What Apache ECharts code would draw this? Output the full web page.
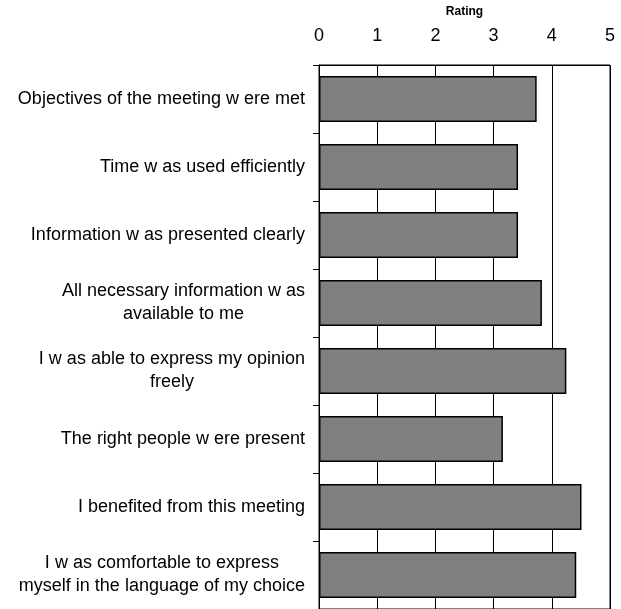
<!DOCTYPE html>
<html>
<head>
<meta charset="utf-8">
<script src="https://cdn.jsdelivr.net/npm/echarts@6/dist/echarts.min.js"></script>
<style>
html,body{margin:0;padding:0;background:#fff;}
#chart{width:621px;height:609px;}
</style>
</head>
<body>
<div id="chart"></div>
<script>
const categories = [
  "Objectives of the meeting w ere met",
  "Time w as used efficiently",
  "Information w as presented clearly",
  "All necessary information w as\navailable to me",
  "I w as able to express my opinion\nfreely",
  "The right people w ere present",
  "I benefited from this meeting",
  "I w as comfortable to express\nmyself in the language of my choice"
];
const ratings = [3.74, 3.42, 3.42, 3.83, 4.25, 3.16, 4.51, 4.42];
const axisTitle = "Rating";
const xMin = 0, xMax = 5, xInterval = 1;

const chart = echarts.init(document.getElementById('chart'), null, {renderer: 'canvas'});
const FONT = '"Liberation Sans", Arial, sans-serif';
chart.setOption({
  backgroundColor: '#fff',
  animation: false,
  grid: {left: 319, right: 11, top: 65, bottom: -2, show: true, borderColor: '#000', borderWidth: 1, containLabel: false},
  xAxis: {
    type: 'value', position: 'top', min: xMin, max: xMax, interval: xInterval,
    name: axisTitle, nameLocation: 'middle', nameGap: 47,
    nameTextStyle: {fontFamily: FONT, fontSize: 12, fontWeight: 'bold', color: '#000'},
    axisLine: {show: true, lineStyle: {color: '#000', width: 1}},
    axisTick: {show: false},
    axisLabel: {fontFamily: FONT, fontSize: 18, color: '#000', margin: 20},
    splitLine: {show: true, lineStyle: {color: '#000', width: 1}}
  },
  yAxis: {
    type: 'category', inverse: true, data: categories,
    axisLine: {show: true, lineStyle: {color: '#000', width: 1}},
    axisTick: {show: true, length: 6, alignWithLabel: false, lineStyle: {color: '#000'}},
    axisLabel: {
      margin: 14, interval: 0,
      formatter: function (v) { return v.split('\n').map(s => '{c|' + s + '}').join('\n'); },
      rich: {c: {fontFamily: FONT, fontSize: 18, color: '#000', align: 'center', lineHeight: 23}}
    },
    splitLine: {show: false}
  },
  series: [{
    type: 'bar', data: ratings, barCategoryGap: '32%',
    itemStyle: {color: '#808080', borderColor: '#000', borderWidth: 1.5}
  }]
});
</script>
</body>
</html>
